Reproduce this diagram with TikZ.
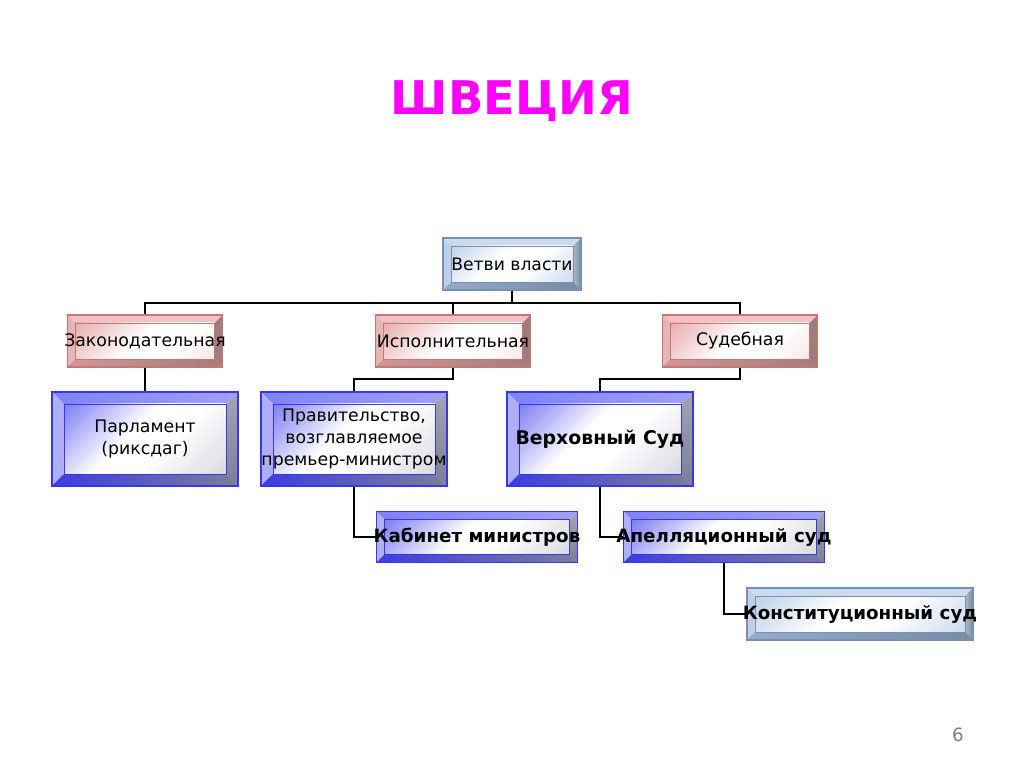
\documentclass[tikz,border=0pt]{standalone}
\usepackage{fontspec}
\setmainfont{DejaVu Sans}
\usetikzlibrary{calc,positioning}
\definecolor{swtitle}  {RGB}{255,  0,255}
\definecolor{bluedge}  {RGB}{ 55, 55,235}
\definecolor{bluetop}  {RGB}{160,160,245}
\definecolor{blueleft} {RGB}{175,175,248}
\definecolor{blueright}{RGB}{125,125,150}
\definecolor{bluebot}  {RGB}{ 60, 60,230}
\definecolor{blueface} {RGB}{ 60, 60,235}
\definecolor{redge}    {RGB}{205,115,115}
\definecolor{redtop}   {RGB}{238,195,195}
\definecolor{redleft}  {RGB}{230,182,182}
\definecolor{redright} {RGB}{160,125,125}
\definecolor{redbot}   {RGB}{208,152,152}
\definecolor{redface}  {RGB}{222,140,140}
\definecolor{stedge}   {RGB}{115,145,185}
\definecolor{sttop}    {RGB}{205,218,236}
\definecolor{stleft}   {RGB}{192,207,230}
\definecolor{stright}  {RGB}{120,138,160}
\definecolor{stbot}    {RGB}{150,172,202}
\definecolor{stface}   {RGB}{155,185,222}
\pgfdeclareverticalshading{bluegrad}{100bp}{color(0bp)=(blueright!45); color(42bp)=(white); color(56bp)=(white); color(100bp)=(blueface)}
\pgfdeclareverticalshading{redgrad}{100bp}{color(0bp)=(redtop!70); color(35bp)=(white); color(52bp)=(white); color(100bp)=(redface)}
\pgfdeclareverticalshading{stgrad}{100bp}{color(0bp)=(stface!80); color(40bp)=(white); color(58bp)=(white); color(100bp)=(stface)}
% bevel: inset, top, left, right, bottom, face shading, edge
\newcommand\bevelpic[7]{%
  \path[#2] (path picture bounding box.north west) -- (path picture bounding box.north east)
    -- ([shift={(-#1,-#1)}]path picture bounding box.north east)
    -- ([shift={(#1,-#1)}]path picture bounding box.north west) -- cycle;
  \path[#3] (path picture bounding box.south west) -- (path picture bounding box.north west)
    -- ([shift={(#1,-#1)}]path picture bounding box.north west)
    -- ([shift={(#1,#1)}]path picture bounding box.south west) -- cycle;
  \path[#4] (path picture bounding box.north east) -- (path picture bounding box.south east)
    -- ([shift={(-#1,#1)}]path picture bounding box.south east)
    -- ([shift={(-#1,-#1)}]path picture bounding box.north east) -- cycle;
  \path[#5] (path picture bounding box.south east) -- (path picture bounding box.south west)
    -- ([shift={(#1,#1)}]path picture bounding box.south west)
    -- ([shift={(-#1,#1)}]path picture bounding box.south east) -- cycle;
  \shade[shading=#6,shading angle=45,draw=#7,line width=0.4pt]
    ([shift={(#1,-#1)}]path picture bounding box.north west)
    rectangle ([shift={(-#1,#1)}]path picture bounding box.south east);
}
\tikzset{
  overflow/.style={execute at begin node={\hbox to 0pt\bgroup\hss},
                   execute at end node={\hss\egroup}},
  rootbox/.style={draw=stedge,line width=0.8pt,inner sep=0pt,
              minimum width=3.45cm,minimum height=1.3cm,font=\fontsize{12.2}{15}\selectfont,
              path picture={\bevelpic{0.2cm}{fill=sttop}{fill=stleft}{left color=stright!60,right color=stright}{left color=stbot,right color=stright}{stgrad}{stedge}}},
  branchbox/.style={draw=redge,line width=0.8pt,inner sep=0pt,overflow,
              minimum width=3.875cm,minimum height=1.3cm,font=\fontsize{12.3}{15}\selectfont,
              path picture={\bevelpic{0.2cm}{fill=redtop}{fill=redleft}{fill=redright}{left color=redbot,right color=redright}{redgrad}{redge}}},
  organbox/.style={draw=bluedge,line width=0.8pt,inner sep=0pt,
              minimum width=4.65cm,minimum height=2.35cm,font=\fontsize{12.3}{15.5}\selectfont,align=center,
              path picture={\bevelpic{0.3cm}{left color=bluetop!80!blue,right color=bluetop}{fill=blueleft}{top color=blueright!70,bottom color=blueright}{left color=bluebot,right color=blueright}{bluegrad}{bluedge}}},
  courtbox/.style={organbox,align=none,overflow,font=\fontsize{13.4}{15}\selectfont\bfseries},
  subbox/.style={organbox,align=none,overflow,minimum width=5.025cm,minimum height=1.275cm,font=\fontsize{13}{15}\selectfont\bfseries,
              path picture={\bevelpic{0.2cm}{left color=bluetop!80!blue,right color=bluetop}{fill=blueleft}{top color=blueright!70,bottom color=blueright}{left color=bluebot,right color=blueright}{bluegrad}{bluedge}}},
  conbox/.style={rootbox,overflow,minimum width=5.65cm,font=\fontsize{13}{15}\selectfont\bfseries},
  conn/.style={draw=black,line width=1.5pt},
}
\begin{document}
\begin{tikzpicture}[x=0.025cm,y=-0.025cm]
  \useasboundingbox[fill=white] (0,0) rectangle (1024,768);

  \node[font=\fontsize{33}{38}\selectfont\bfseries,text=swtitle] (title) at (512,101) {ШВЕЦИЯ};

  \node[rootbox]   (root) at (512,264) {Ветви власти};

  \node[branchbox] (leg)  at (145,341) {Законодательная};
  \node[branchbox] (exe)  at (453,341) {Исполнительная};
  \node[branchbox] (jud)  at (740,341) {Судебная};

  \node[organbox]  (parl) at (145,439) {Парламент\\(риксдаг)};
  \node[organbox]  (gov)  at (354,439) {Правительство,\\возглавляемое\\премьер-министром};
  \node[courtbox]  (sup)  at (600,439) {Верховный Суд};

  \node[subbox]    (cab)  at (477,537) {Кабинет министров};
  \node[subbox]    (app)  at (724,537) {Апелляционный суд};
  \node[conbox]    (con)  at (860,614) {Конституционный суд};

  \node[text=gray,font=\fontsize{13}{15}\selectfont] (pnum) at (958,735) {6};

  % root to branches
  \draw[conn] (root.south) -- ++(0,12) -| (leg.north);
  \draw[conn] (root.south) -- ++(0,12) -| (exe.north);
  \draw[conn] (root.south) -- ++(0,12) -| (jud.north);

  % branches to organs
  \draw[conn] (leg.south) -- (parl.north);
  \draw[conn] (exe.south) -- ++(0,11) -| (gov.north);
  \draw[conn] (jud.south) -- ++(0,11) -| (sup.north);

  % lower levels
  \draw[conn] (gov.south) |- (cab.west);
  \draw[conn] (sup.south) |- (app.west);
  \draw[conn] (app.south) |- (con.west);
\end{tikzpicture}
\end{document}
